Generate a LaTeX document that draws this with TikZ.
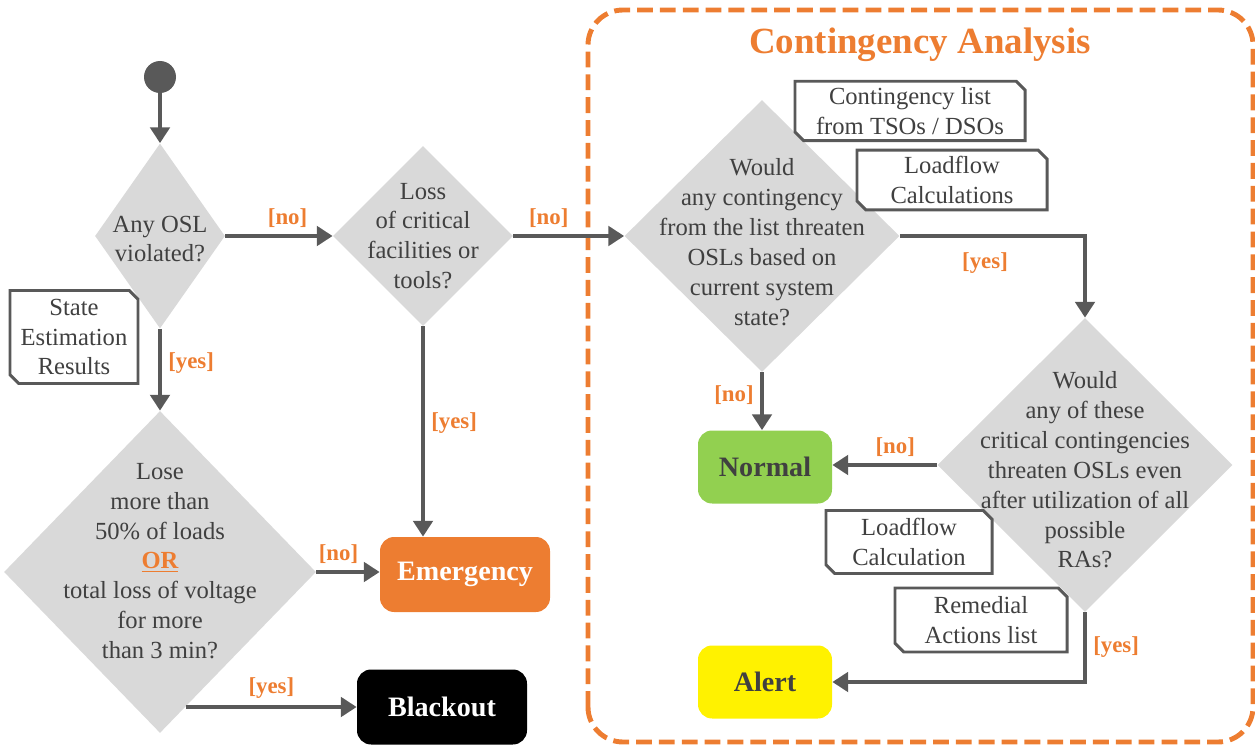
\documentclass[tikz,border=0pt]{standalone}
\usepackage{fontspec}
\setmainfont{Liberation Serif}
\usetikzlibrary{shapes.geometric,shapes.misc,arrows.meta}
\definecolor{lgray}{HTML}{D9D9D9}
\definecolor{dgray}{HTML}{595959}
\definecolor{txtgray}{HTML}{404040}
\definecolor{orng}{HTML}{ED7D31}
\definecolor{grn}{HTML}{92D050}

\begin{document}
\begin{tikzpicture}[
    font=\fontsize{14}{17}\selectfont,
    dec/.style={diamond,fill=lgray,inner sep=0pt},
    dtext/.style={align=center,text=txtgray},
    doc/.style={chamfered rectangle,chamfered rectangle corners={north east,south west},
      chamfered rectangle xsep=2.5pt,chamfered rectangle ysep=2.5pt,
      draw=dgray,line width=1.7pt,fill=white,align=center,text=txtgray,inner sep=1pt},
    state/.style={rounded corners=8pt,minimum width=3.4cm,minimum height=1.5cm,
      font=\fontsize{16}{19}\bfseries},
    flow/.style={draw=dgray,line width=2.8pt,-{Triangle[length=9pt,width=11pt]}},
    guard/.style={text=orng,font=\fontsize{13}{15}\bfseries}
  ]
  \useasboundingbox (0,0) rectangle (25.1,14.94);

  % contingency analysis frame
  \draw[orng,line width=2.8pt,dash pattern=on 9pt off 4pt,rounded corners=0.7cm]
    (11.76,0.1) rectangle (25.06,14.74);
  \node[text=orng,font=\fontsize{21}{25}\bfseries] (title) at (18.4,14.04) {Contingency Analysis};

  % decisions
  \node[circle,fill=dgray,minimum size=0.64cm,inner sep=0pt] (start) at (3.2,13.4) {};
  \node[dec,minimum width=2.6cm,minimum height=3.7cm] (osl) at (3.2,10.22) {};
  \node[dtext] (osltxt) at ([yshift=-0.06cm]osl.center) {Any OSL\\violated?};
  \node[dec,minimum width=3.6cm,minimum height=3.6cm] (crit) at (8.46,10.22) {};
  \node[dtext] (crittxt) at (crit) {Loss\\of critical\\facilities or\\tools?};
  \node[dec,minimum width=5.5cm,minimum height=5.44cm] (threat) at (15.24,10.22) {};
  \node[dtext] (threattxt) at ([yshift=-0.12cm]threat.center) {Would\\any contingency\\from the list threaten\\OSLs based on\\current system\\state?};
  \node[dec,minimum width=5.9cm,minimum height=5.88cm] (remain) at (21.7,5.64) {};
  \node[dtext] (remaintxt) at ([yshift=-0.1cm]remain.center) {Would\\any of these\\critical contingencies\\threaten OSLs even\\after utilization of all\\possible\\RAs?};
  \node[dec,minimum width=6.24cm,minimum height=6.44cm] (loads) at (3.2,3.5) {};
  \node[dtext] (loadstxt) at ([yshift=0.22cm]loads.center) {Lose\\more than\\50\% of loads\\{\color{orng}\bfseries\underline{OR}}\\total loss of voltage\\for more\\than 3 min?};

  % states
  \node[state,fill=orng,text=white] (emerg) at (9.3,3.45) {Emergency};
  \node[state,fill=black,text=white] (blk) at (8.84,0.8) {Blackout};
  \node[state,fill=grn,text=txtgray,minimum width=2.68cm,minimum height=1.46cm] (norm) at (15.3,5.6) {Normal};
  \node[state,fill=yellow,text=txtgray,minimum width=2.68cm,minimum height=1.46cm] (alert) at (15.3,1.3) {Alert};

  % inputs
  \node[doc,minimum width=4.6cm,minimum height=1.16cm] (clist) at (18.2,12.72) {Contingency list\\from TSOs / DSOs};
  \node[doc,minimum width=3.8cm,minimum height=1.1cm] (lfcs) at (19.04,11.34) {Loadflow\\Calculations};
  \node[doc,minimum width=3.32cm,minimum height=1.26cm] (lfc) at (18.18,4.1) {Loadflow\\Calculation};
  \node[doc,minimum width=3.44cm,minimum height=1.28cm] (ras) at (19.62,2.54) {Remedial\\Actions list};
  \node[doc,minimum width=2.56cm,minimum height=1.86cm] (se) at (1.48,8.2) {State\\Estimation\\Results};

  % flows
  \draw[flow] (start) -- (osl.north);
  \draw[flow] (osl.east) -- node[guard,above,pos=0.58] (g1) {[no]} (crit.west);
  \draw[flow] (crit.east) -- node[guard,above,pos=0.32] (g2) {[no]} (threat.west);
  \draw[flow] (threat.east) -| node[guard,below=5pt,pos=0.23] (g3) {[yes]} (remain.north);
  \draw[flow] (threat.south) -- node[guard,left,pos=0.4] (g4) {[no]} (threat.south |- norm.north);
  \draw[flow] (remain.west) -- node[guard,above,pos=0.4] (g5) {[no]} (remain.west -| norm.east);
  \draw[flow] (remain.south) |- node[guard,right,pos=0.25] (g6) {[yes]} (alert.east);
  \draw[flow] (osl.south) -- node[guard,right,pos=0.42] (g7) {[yes]} (loads.north);
  \draw[flow] (crit.south) -- node[guard,right,pos=0.46] (g8) {[yes]} (crit.south |- emerg.north);
  \draw[flow] (loads.east) -- node[guard,above,pos=0.35] (g9) {[no]} (loads.east -| emerg.west);
  \draw[flow] (loads.-79.4 |- blk.west) -- node[guard,above] (g10) {[yes]} (blk.west);
\end{tikzpicture}
\end{document}
